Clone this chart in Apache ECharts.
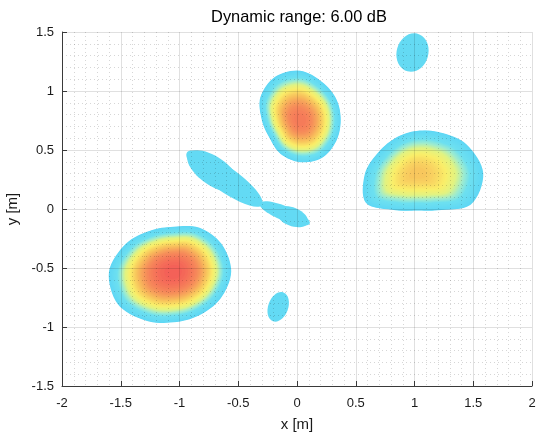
<!DOCTYPE html>
<html>
<head>
<meta charset="utf-8">
<script src="https://cdn.jsdelivr.net/npm/echarts@6/dist/echarts.min.js"></script>
<style>html,body{margin:0;padding:0;background:#fff}#c{width:537px;height:433px}</style>
</head>
<body>
<div id="c"></div>
<script>
// ---------------- data ----------------
const titleText = 'Dynamic range: 6.00 dB';
const xTicks = [-2, -1.5, -1, -0.5, 0, 0.5, 1, 1.5, 2];
const yTicks = [-1.5, -1, -0.5, 0, 0.5, 1, 1.5];
const dynRange = 6; // dB

// Strong sources: peak position (m), peak level (dB) and the -6 dB outline
// radius (m) in 12 directions (0°, 30°, ... 330°) measured from the peak.
const srcNames  = ['bottom-left', 'centre-top', 'right'];
const srcX      = [-1.05, 0.026, 1.019];
const srcY      = [-0.53, 0.752, 0.302];
const srcPeakDb = [0.0, -0.6, -2.0];
const srcRadii  = [
  [0.49, 0.47, 0.43, 0.38, 0.40, 0.47, 0.55, 0.55, 0.48, 0.43, 0.43, 0.46],
  [0.346, 0.357, 0.375, 0.42, 0.425, 0.39, 0.325, 0.30, 0.33, 0.355, 0.37, 0.355],
  [0.566, 0.49, 0.40, 0.36, 0.35, 0.37, 0.44, 0.50, 0.36, 0.315, 0.36, 0.53]
];

// Weak lobes (just above the -6 dB floor): ellipses centre (m), semi-axes (m), tilt (deg)
const lobeNames = ['dumbbell-upper', 'dumbbell-upper-bulge', 'dumbbell-lower', 'dumbbell-lower-bulge', 'small-bottom', 'small-top'];
const lobeX     = [-0.617, -0.71, -0.105, -0.04, -0.16, 0.983];
const lobeY     = [ 0.257,  0.32, -0.038, -0.066, -0.83, 1.326];
const lobeRX    = [ 0.39,   0.26,  0.23,   0.14,  0.085, 0.135];
const lobeRY    = [ 0.105,  0.12,  0.062,  0.078, 0.13,  0.165];
const lobeAngle = [ -35,   -35,   -22,   -22,   -20,   -15];
const lobeDb    = [ -5.6,  -5.6,  -5.6,  -5.6,  -5.6,  -5.5];

// ---------------- colour map (dB -> colour) ----------------
const cmapDb  = [-6, -4.6, -4.0, -3.4, -2.8, -2.0, -1.1, 0];
const cmapCol = [[95,215,245],[110,224,240],[160,236,205],[225,243,130],[250,238,105],[248,195,92],[246,140,90],[244,92,88]];
function cmap(L){
  if (L <= cmapDb[0]) return 'rgb(' + cmapCol[0].join(',') + ')';
  for (let i = 1; i < cmapDb.length; i++){
    if (L <= cmapDb[i]){
      const t = (L - cmapDb[i-1]) / (cmapDb[i] - cmapDb[i-1]);
      return 'rgb(' + cmapCol[i-1].map((v, k) => Math.round(v + t * (cmapCol[i][k] - v))).join(',') + ')';
    }
  }
  return 'rgb(' + cmapCol[cmapCol.length-1].join(',') + ')';
}

const srcRows  = srcX.map((x, i) => [x, srcY[i], srcPeakDb[i]].concat(srcRadii[i]));
const lobeRows = lobeX.map((x, i) => [x, lobeY[i], lobeRX[i], lobeRY[i], lobeAngle[i], lobeDb[i]]);

const profilePow = 2;     // level fall-off inside a source
const nLevels = 48;
const nSub = 8;           // samples per outline segment (closed Catmull-Rom)

// outline offsets (m, relative to the peak) through the measured boundary points
function outlineOffsets(radii){
  const n = radii.length;
  const P = radii.map((r, j) => [r * Math.cos(2 * Math.PI * j / n), r * Math.sin(2 * Math.PI * j / n)]);
  const out = [];
  for (let j = 0; j < n; j++){
    const p0 = P[(j - 1 + n) % n], p1 = P[j], p2 = P[(j + 1) % n], p3 = P[(j + 2) % n];
    for (let s = 0; s < nSub; s++){
      const t = s / nSub, t2 = t * t, t3 = t2 * t;
      const f = (a, b, c, d) => 0.5 * ((2 * b) + (-a + c) * t + (2 * a - 5 * b + 4 * c - d) * t2 + (-a + 3 * b - 3 * c + d) * t3);
      out.push([f(p0[0], p1[0], p2[0], p3[0]), f(p0[1], p1[1], p2[1], p3[1])]);
    }
  }
  return out;
}

const chart = echarts.init(document.getElementById('c'), null, {renderer: 'canvas'});
const axisCol = '#3a3a3a';
const font = 'Liberation Sans, Arial, Helvetica, sans-serif';
function axisCommon(){
  return {
    type: 'value', interval: 0.5, z: 5,
    nameLocation: 'middle',
    nameTextStyle: {fontSize: 15, color: '#1a1a1a', fontFamily: font},
    axisLine: {show: true, onZero: false, lineStyle: {color: axisCol, width: 1}},
    axisTick: {show: true, inside: true, length: 5, lineStyle: {color: axisCol}},
    axisLabel: {fontSize: 13, color: '#1a1a1a', margin: 8, fontFamily: font},
    splitLine: {show: true, lineStyle: {color: 'rgba(0,0,0,0.12)', width: 1}},
    minorTick: {show: true, splitNumber: 5, length: 0, lineStyle: {color: 'rgba(0,0,0,0)'}},
    minorSplitLine: {show: true, lineStyle: {color: 'rgba(0,0,0,0.16)', width: 1, type: [1, 3]}}
  };
}
const xAxisOpt = Object.assign(axisCommon(), {min: xTicks[0], max: xTicks[xTicks.length-1], name: 'x [m]', nameGap: 31});
xAxisOpt.axisLabel = Object.assign({}, xAxisOpt.axisLabel, {margin: 11});
const yAxisOpt = Object.assign(axisCommon(), {min: yTicks[0], max: yTicks[yTicks.length-1], name: 'y [m]', nameGap: 40});

chart.setOption({
  animation: false,
  title: {
    text: titleText, left: 294, top: 4, textAlign: 'center',
    textStyle: {fontSize: 16.4, fontWeight: 'normal', color: '#000', fontFamily: font}
  },
  grid: {left: 62, right: 5, top: 32, bottom: 47, containLabel: false, outerBoundsMode: 'none'},
  xAxis: xAxisOpt,
  yAxis: yAxisOpt,
  series: [{
    type: 'custom',
    name: 'lobes',
    z: 2,
    clip: true,
    data: lobeRows,
    encode: {x: 0, y: 1},
    renderItem: function(params, api){
      const c = api.coord([api.value(0), api.value(1)]);
      const s = api.size([api.value(2), api.value(3)]);
      return {
        type: 'ellipse',
        shape: {cx: 0, cy: 0, rx: s[0], ry: s[1]},
        x: c[0], y: c[1],
        rotation: api.value(4) * Math.PI / 180,
        style: {fill: cmap(api.value(5))}
      };
    }
  }, {
    type: 'custom',
    name: 'sources',
    z: 3,
    clip: true,
    data: srcRows,
    encode: {x: 0, y: 1},
    renderItem: function(params, api){
      const px = api.value(0), py = api.value(1), P = api.value(2);
      const radii = [];
      for (let j = 0; j < 12; j++) radii.push(api.value(3 + j));
      const outline = outlineOffsets(radii);
      const children = [];
      for (let k = 0; k < nLevels; k++){
        const L = -dynRange + k * (P + dynRange) / nLevels;
        const f = Math.pow((P - L) / (P + dynRange), 1 / profilePow);
        const pts = outline.map(([dx, dy]) => api.coord([px + f * dx, py + f * dy]));
        children.push({type: 'polygon', shape: {points: pts}, style: {fill: cmap(L)}});
      }
      return {type: 'group', children: children};
    }
  }]
});
</script>
</body>
</html>
